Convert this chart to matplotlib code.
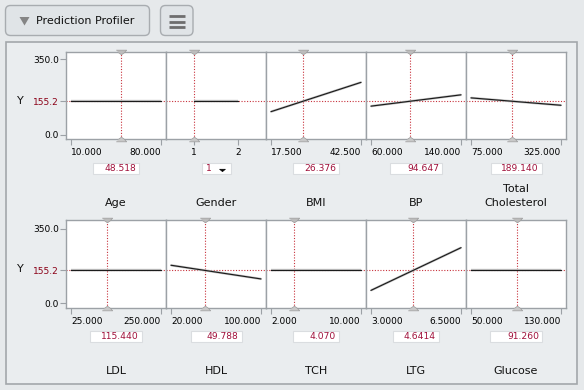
import matplotlib
matplotlib.use("Agg")
import matplotlib.pyplot as plt
from matplotlib.patches import FancyBboxPatch, Rectangle, Polygon

# ---------------- data ----------------
factors = ["Age", "Gender", "BMI", "BP", "Total\nCholesterol",
           "LDL", "HDL", "TCH", "LTG", "Glucose"]
x_low = [10, 1, 17.5, 60, 75, 25, 20, 2, 3, 50]
x_high = [80, 2, 42.5, 140, 325, 250, 100, 10, 6.5, 130]
low_labels = ["10.000", "1", "17.500", "60.000", "75.000",
              "25.000", "20.000", "2.000", "3.0000", "50.000"]
high_labels = ["80.000", "2", "42.500", "140.000", "325.000",
               "250.000", "100.000", "10.000", "6.5000", "130.000"]
current = [48.518, 1, 26.376, 94.647, 189.140, 115.440, 49.788, 4.070, 4.6414, 91.260]
current_labels = ["48.518", "1", "26.376", "94.647", "189.140",
                  "115.440", "49.788", "4.070", "4.6414", "91.260"]
y_at_low = [155.2, 155.2, 106.9, 132.5, 170.9, 155.2, 179.2, 155.2, 60.9, 155.2]
y_at_high = [155.2, 155.2, 242.9, 185.0, 136.6, 155.2, 114.7, 155.2, 261.9, 155.2]
categorical = [False, True, False, False, False, False, False, False, False, False]
y_ticks = [0, 155.2, 350]
y_tick_labels = ["0.0", "155.2", "350.0"]
y_current = 155.2
response = "Y"
title = "Prediction Profiler"

# ---------------- layout ----------------
W, H = 584, 390
fig = plt.figure(figsize=(W / 100, H / 100), dpi=100)
fig.patch.set_facecolor('#e6e9eb')
plt.rcParams['font.family'] = ['DejaVu Sans']

RED = '#c8323c'
VALRED = '#a0103a'
SPINE = '#9ca1a6'

TOP_MARK = [(-1.0, 0.45), (1.0, 0.45), (0.55, -0.05), (0.0, -0.45), (-0.55, -0.05)]
BOT_MARK = [(x, -y) for x, y in TOP_MARK]


def frac(x0, y0, x1, y1):
    return [x0 / W, 1 - y1 / H, (x1 - x0) / W, (y1 - y0) / H]


bg = fig.add_axes([0, 0, 1, 1])
bg.set_xlim(0, W)
bg.set_ylim(H, 0)
bg.axis('off')
bg.set_zorder(0)

# outer frame
bg.add_patch(Rectangle((5.5, 41.5), 571.5, 342.5, fc='#eaedef', ec='#a3a7ab', lw=1.2))
# header buttons
bg.add_patch(FancyBboxPatch((5.5, 5.5), 144, 30, boxstyle="round,pad=0,rounding_size=5",
                            fc='#e0e4e7', ec='#a8acb0', lw=1))
bg.add_patch(Polygon([(19.5, 17), (29.5, 17), (24.5, 25.5)], closed=True, fc='#858585', ec='none'))
bg.text(36.5, 21, title, fontsize=8, va='center', ha='left', color='#111111')
bg.add_patch(FancyBboxPatch((160.5, 5.5), 32.5, 30, boxstyle="round,pad=0,rounding_size=5",
                            fc='#e0e4e7', ec='#a8acb0', lw=1))
for yy in (16, 21.5, 27):
    bg.plot([169, 185], [yy, yy], color='#6e6e6e', lw=2.0, solid_capstyle='butt')

rows = [
    dict(top=52.3, bot=139.3, ylim=(-21.4, 382.5), box=(162.7, 174.0), label_base=205.5, ylab=100.5),
    dict(top=220.0, bot=308.3, ylim=(-23.6, 392.4), box=(330.7, 341.7), label_base=374.0, ylab=268.5),
]
box_widths = [46, 29, 46, 52, 51, 52, 51, 46, 46, 52]

for i, name in enumerate(factors):
    r = rows[i // 5]
    col = i % 5
    x0 = 66 + 100 * col
    x1 = x0 + 100
    ax = fig.add_axes(frac(x0, r['top'], x1, r['bot']))
    ax.set_zorder(2)
    ax.set_facecolor('white')
    lo, hi = x_low[i], x_high[i]
    if categorical[i]:
        pad = (hi - lo) * 0.28 / 0.44
    else:
        pad = (hi - lo) * 0.05 / 0.9
    ax.set_xlim(lo - pad, hi + pad)
    ax.set_ylim(*r['ylim'])
    for s in ax.spines.values():
        s.set_color(SPINE)
        s.set_linewidth(1.0)
    # profile line
    ax.plot([lo, hi], [y_at_low[i], y_at_high[i]], color='#c6c6c6', lw=1.7, solid_capstyle='butt', zorder=3)
    ax.plot([lo, hi], [y_at_low[i], y_at_high[i]], color='#1c1c1c', lw=0.85, zorder=4)
    # current value crosshairs
    ax.axhline(y_current, color=RED, lw=0.8, ls=(0, (1, 1.5)), zorder=2)
    ax.axvline(current[i], color=RED, lw=0.8, ls=(0, (1, 1.5)), zorder=2)
    ylo, yhi = r['ylim']
    ax.plot([current[i]], [yhi], marker=TOP_MARK, ms=7.5, color='#bcbcbc', mec='#9c9c9c', mew=0.5,
            clip_on=False, zorder=6)
    ax.plot([current[i]], [ylo], marker=BOT_MARK, ms=7.5, color='#c8c8c8', mec='#9c9c9c', mew=0.5,
            clip_on=False, zorder=6)
    # x ticks
    ax.set_xticks([lo, hi])
    ax.set_xticklabels([low_labels[i], high_labels[i]])
    ax.tick_params(axis='x', direction='out', length=4, width=0.8, color=SPINE,
                   labelsize=6.5, pad=2)
    if not categorical[i]:
        tl = ax.get_xticklabels()
        tl[0].set_ha('left')
        tl[1].set_ha('right')
    # y ticks
    if col == 0:
        ax.set_yticks(y_ticks)
        ax.set_yticklabels(y_tick_labels)
        ax.tick_params(axis='y', direction='out', length=4, width=0.8, color=SPINE,
                       labelsize=6.5, pad=1)
        for t, lab in zip(ax.get_yticklabels(), y_tick_labels):
            if lab == f"{y_current:.1f}":
                t.set_color('#8b0016')
        ax.get_yticklines()[2].set_color(RED)
        bg.text(20, r['ylab'], response, fontsize=8, ha='center', va='center', color='#111111')
    else:
        ax.set_yticks([])

    # current value box
    cx = (x0 + x1) / 2
    bw = box_widths[i]
    by0, by1 = r['box']
    bg.add_patch(Rectangle((cx - bw / 2, by0), bw, by1 - by0, fc='white', ec='#dadde0', lw=0.8))
    if categorical[i]:
        bg.text(cx - bw / 2 + 4, (by0 + by1) / 2 + 0.3, current_labels[i], fontsize=6.6,
                color=VALRED, ha='left', va='center')
        tx = cx + bw / 2 - 8
        bg.add_patch(Polygon([(tx - 3, by0 + 6.5), (tx + 3, by0 + 6.5), (tx, by0 + 9)],
                             closed=True, fc='black', ec='black', lw=0.4))
    else:
        bg.text(cx + bw / 2 - 3, (by0 + by1) / 2 + 0.3, current_labels[i], fontsize=6.6,
                color=VALRED, ha='right', va='center')

    # factor label
    lines = name.split('\n')
    for k, line in enumerate(reversed(lines)):
        bg.text(cx, r['label_base'] - 13.5 * k, line, fontsize=8, ha='center',
                va='baseline', color='#111111')

fig.savefig('out.png', dpi=100, facecolor=fig.get_facecolor())
